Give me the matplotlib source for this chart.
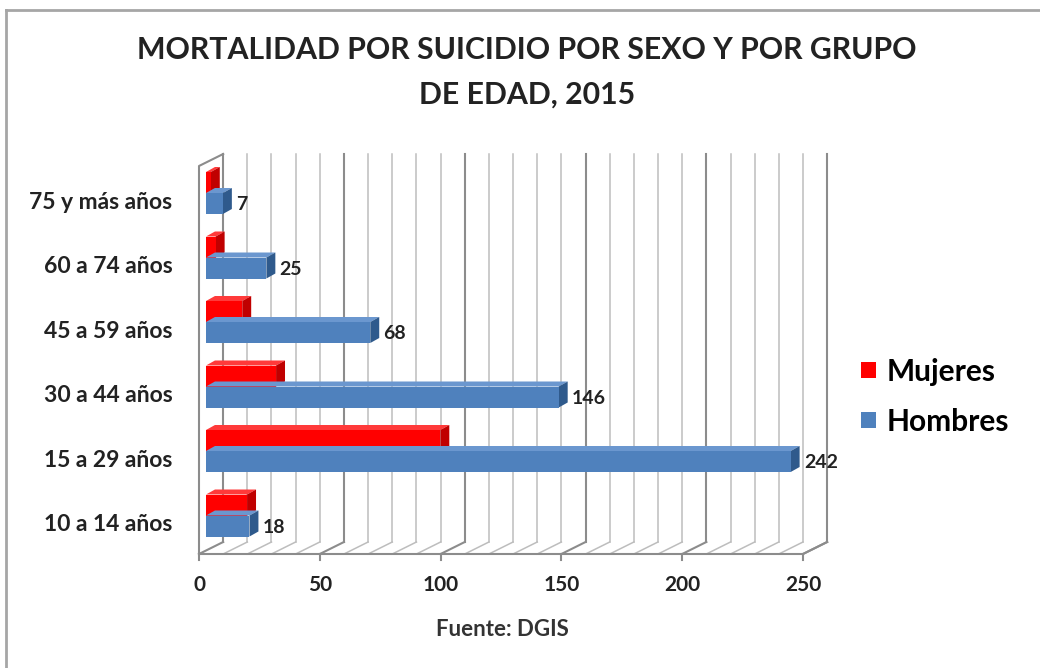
import matplotlib
matplotlib.use('Agg')
import matplotlib.pyplot as plt
from matplotlib.patches import Polygon, Patch

# Datos
grupos = ['10 a 14 años', '15 a 29 años', '30 a 44 años',
          '45 a 59 años', '60 a 74 años', '75 y más años']
hombres = [18, 242, 146, 68, 25, 7]
mujeres = [17, 97, 29, 15, 4, 2]
ticks = [0, 50, 100, 150, 200, 250]

plt.rcParams['font.family'] = ['Lato', 'DejaVu Sans']
plt.rcParams['font.weight'] = 'bold'

fig = plt.figure(figsize=(10.4, 6.68), dpi=100)
fig.patch.set_facecolor('white')

# marco gris (solo arriba e izquierda visibles)
fig.add_artist(plt.Line2D([6/1040, 6/1040], [0, 1 - 10/668], color='#a6a6a6', lw=2,
                          transform=fig.transFigure))
fig.add_artist(plt.Line2D([6/1040, 1], [1 - 10/668, 1 - 10/668], color='#a6a6a6', lw=2,
                          transform=fig.transFigure))

# ejes: x en valores, y en grupos
px = 2.416  # pixeles por unidad en x
py = 64.5   # pixeles por grupo
xmax = 262
ax = fig.add_axes([199/1040, (668-554)/668, xmax*px/1040, 400/668])
ymin = (515.5 - 554) / py
ymax = (515.5 - 154) / py
ax.set_xlim(0, xmax)
ax.set_ylim(ymin, ymax)
ax.axis('off')

# profundidad 3D
wdx, wdy = 10, 12/py      # pared del fondo
bdx, bdy = 3.7, 5/py      # profundidad de barra
x0 = 2.9                  # inicio de las barras
floor_f, floor_b = ymin, ymin + wdy
top_b = ymax

# cuadricula
for v in range(0, 251, 10):
    major = v % 50 == 0
    c = '#8c8c8c' if major else '#bdbdbd'
    lw = 1.5 if major else 1.1
    ax.plot([wdx + v, wdx + v], [floor_b, top_b], color=c, lw=lw, clip_on=False, zorder=1)
    ax.plot([wdx + v, v], [floor_b, floor_f], color=c, lw=lw, clip_on=False, zorder=1)

# piso y pared izquierda
ax.plot([0, 250], [floor_f, floor_f], color='#8c8c8c', lw=1.5, clip_on=False, zorder=1)
ax.plot([250, 250 + wdx], [floor_f, floor_b], color='#8c8c8c', lw=1.5, clip_on=False, zorder=1)
ax.plot([0, 0, wdx], [floor_f, top_b - wdy, top_b], color='#8c8c8c', lw=1.5,
        clip_on=False, zorder=1)
for t in ticks:
    ax.plot([t, t], [floor_f, floor_f - 6/py], color='#8c8c8c', lw=1.5, clip_on=False)
    ax.text(t, floor_f - 31/py, str(t), ha='center', va='center', fontsize=15,
            fontweight='bold', color='#222222')


def barra(val, yb, h, c_front, c_top, c_side):
    xa, xb = x0, x0 + val
    ax.add_patch(Polygon([(xa, yb + h), (xb, yb + h), (xb + bdx, yb + h + bdy),
                          (xa + bdx, yb + h + bdy)], closed=True, fc=c_top, ec='none',
                         zorder=3, clip_on=False))
    ax.add_patch(Polygon([(xb, yb), (xb + bdx, yb + bdy), (xb + bdx, yb + h + bdy),
                          (xb, yb + h)], closed=True, fc=c_side, ec='none', zorder=3,
                         clip_on=False))
    ax.add_patch(Polygon([(xa, yb), (xb, yb), (xb, yb + h), (xa, yb + h)], closed=True,
                         fc=c_front, ec='none', zorder=3, clip_on=False))


h = 21/py
for i, g in enumerate(grupos):
    barra(mujeres[i], i, h, '#ff0000', '#ff3a3a', '#c00000')
    barra(hombres[i], i - h, h, '#4f81bd', '#6b97cf', '#2f5a8c')
    ax.text(x0 + hombres[i] + bdx + 1.8, i - h/2 - 0.02, str(hombres[i]), ha='left',
            va='center', fontsize=14, fontweight='bold', color='#222222', zorder=4)
    ax.text(-11, i - 0.14, g, ha='right', va='center', fontsize=16.5,
            fontweight='bold', color='#222222')

fig.text(527/1040, 1 - 50/668, 'MORTALIDAD POR SUICIDIO POR SEXO Y POR GRUPO',
         ha='center', va='center', fontsize=21.8, fontweight='bold', color='#222222')
fig.text(527/1040, 1 - 95/668, 'DE EDAD, 2015', ha='center', va='center',
         fontsize=21.8, fontweight='bold', color='#222222')
fig.text(502/1040, 1 - 629/668, 'Fuente: DGIS', ha='center', va='center',
         fontsize=16, fontweight='bold', color='#333333')

handles = [Patch(fc='#ff0000', ec='none', label='Mujeres'),
           Patch(fc='#4f81bd', ec='none', label='Hombres')]
fig.legend(handles=handles, loc='center left', bbox_to_anchor=(834/1040, 1 - 397/668),
           frameon=False, prop={'size': 21.5, 'weight': 'bold'}, handlelength=0.5,
           handleheight=0.45, handletextpad=0.35, labelspacing=0.74)

fig.savefig('out.png', dpi=100, facecolor='white')
